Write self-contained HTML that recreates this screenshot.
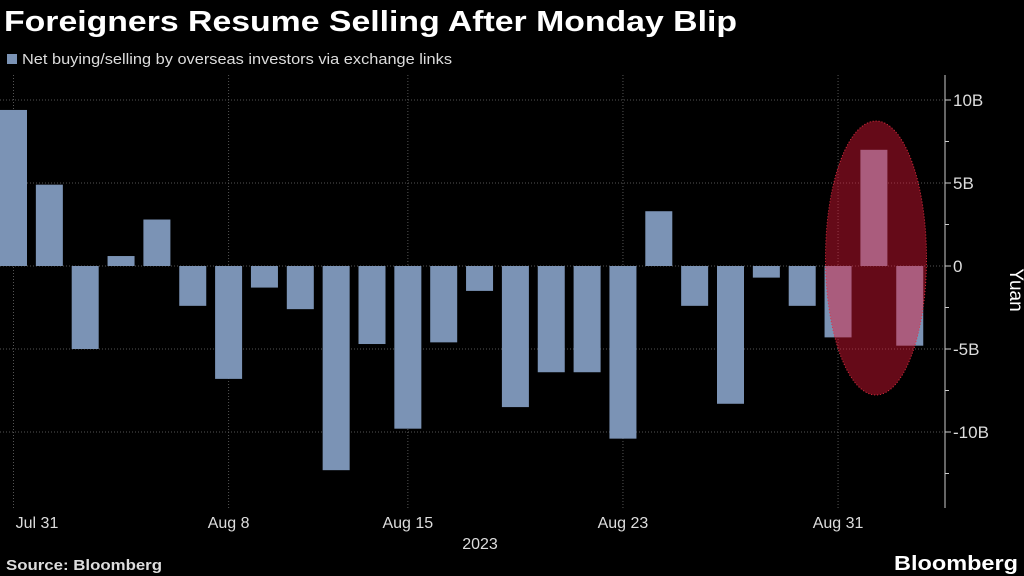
<!DOCTYPE html>
<html><head><meta charset="utf-8"><style>
body{margin:0;background:#000;width:1024px;height:576px;overflow:hidden;font-family:"Liberation Sans",sans-serif;color:#fff}
</style></head><body>
<svg width="1024" height="576" style="position:absolute;left:0;top:0">
<text x="4" y="31" font-size="29" font-weight="bold" fill="#fff" textLength="733" lengthAdjust="spacingAndGlyphs">Foreigners Resume Selling After Monday Blip</text>
<rect x="7" y="54" width="10" height="10" fill="#7b93b5"/>
<text x="22" y="64" font-size="15" fill="#ddd" textLength="430" lengthAdjust="spacingAndGlyphs">Net buying/selling by overseas investors via exchange links</text>
<g id="grid"></g><g id="bars"></g><g id="axis"></g>
<ellipse cx="876" cy="258" rx="50.5" ry="137" fill="rgb(230,22,55)" fill-opacity="0.44" stroke="#e03040" stroke-dasharray="1,2" stroke-width="1"/>
<text x="1010" y="290" font-size="19" fill="#fff" text-anchor="middle" transform="rotate(90 1010 290)">Yuan</text>
<text x="480" y="549" font-size="16" fill="#ddd" text-anchor="middle">2023</text>
<text x="6" y="570" font-size="15" font-weight="bold" fill="#ddd" textLength="156" lengthAdjust="spacingAndGlyphs">Source: Bloomberg</text>
<text x="1018" y="570" font-size="20" font-weight="bold" fill="#fff" text-anchor="end" textLength="124" lengthAdjust="spacingAndGlyphs">Bloomberg</text>
</svg>
<script>
const values=[9.4,4.9,-5,0.6,2.8,-2.4,-6.8,-1.3,-2.6,-12.3,-4.7,-9.8,-4.6,-1.5,-8.5,-6.4,-6.4,-10.4,3.3,-2.4,-8.3,-0.7,-2.4,-4.3,7,-4.8];
const yTicks=[10,5,0,-5,-10];
const yTickLabels=["10B","5B","0","-5B","-10B"];
const xTickIdx=[0,6,11,17,23];
const xTickLabels=["Jul 31","Aug 8","Aug 15","Aug 23","Aug 31"];
const NS="http://www.w3.org/2000/svg";
const y=v=>266-v*16.6, x=i=>i*35.85, bw=27, axisX=945;
function mk(t,a,p){const e=document.createElementNS(NS,t);for(const k in a)e.setAttribute(k,a[k]);p.appendChild(e);return e;}
const G=document.getElementById('grid'),B=document.getElementById('bars'),A=document.getElementById('axis');
yTicks.forEach((v,i)=>{
 const l=mk('line',{x1:0,x2:axisX,y1:y(v),y2:y(v),stroke:'#555','stroke-dasharray':'1,2'},G);
 
 
 const tk=mk('line',{x1:axisX,x2:axisX+6,y1:y(v),y2:y(v),stroke:'#ccc'},A);
 
 
 const t=mk('text',{x:axisX+8,y:y(v)+6,'font-size':17,fill:'#ddd'},A);t.textContent=yTickLabels[i];
 
 
});
[7.5,2.5,-2.5,-7.5,-12.5].forEach(v=>{
 const tk=mk('line',{x1:axisX,x2:axisX+4,y1:y(v),y2:y(v),stroke:'#ccc'},A);
 
 
});
xTickIdx.forEach((idx,i)=>{
 const cx=x(idx)+bw/2;
 const l=mk('line',{x1:cx,x2:cx,y1:75,y2:508,stroke:'#555','stroke-dasharray':'1,2'},G);
 
 
 const t=mk('text',{x:i==0?37:cx,y:528,'font-size':16,fill:'#ddd','text-anchor':'middle'},A);t.textContent=xTickLabels[i];
 
 
});
const ax=mk('line',{x1:axisX,x2:axisX,y1:75,y2:508,stroke:'#ccc'},A);


values.forEach((v,i)=>{
 const r=mk('rect',{x:x(i),y:Math.min(y(v),y(0)),width:bw,height:Math.abs(y(v)-y(0)),fill:'#7b93b5'},B);
 
 
});
</script>
</body></html>
